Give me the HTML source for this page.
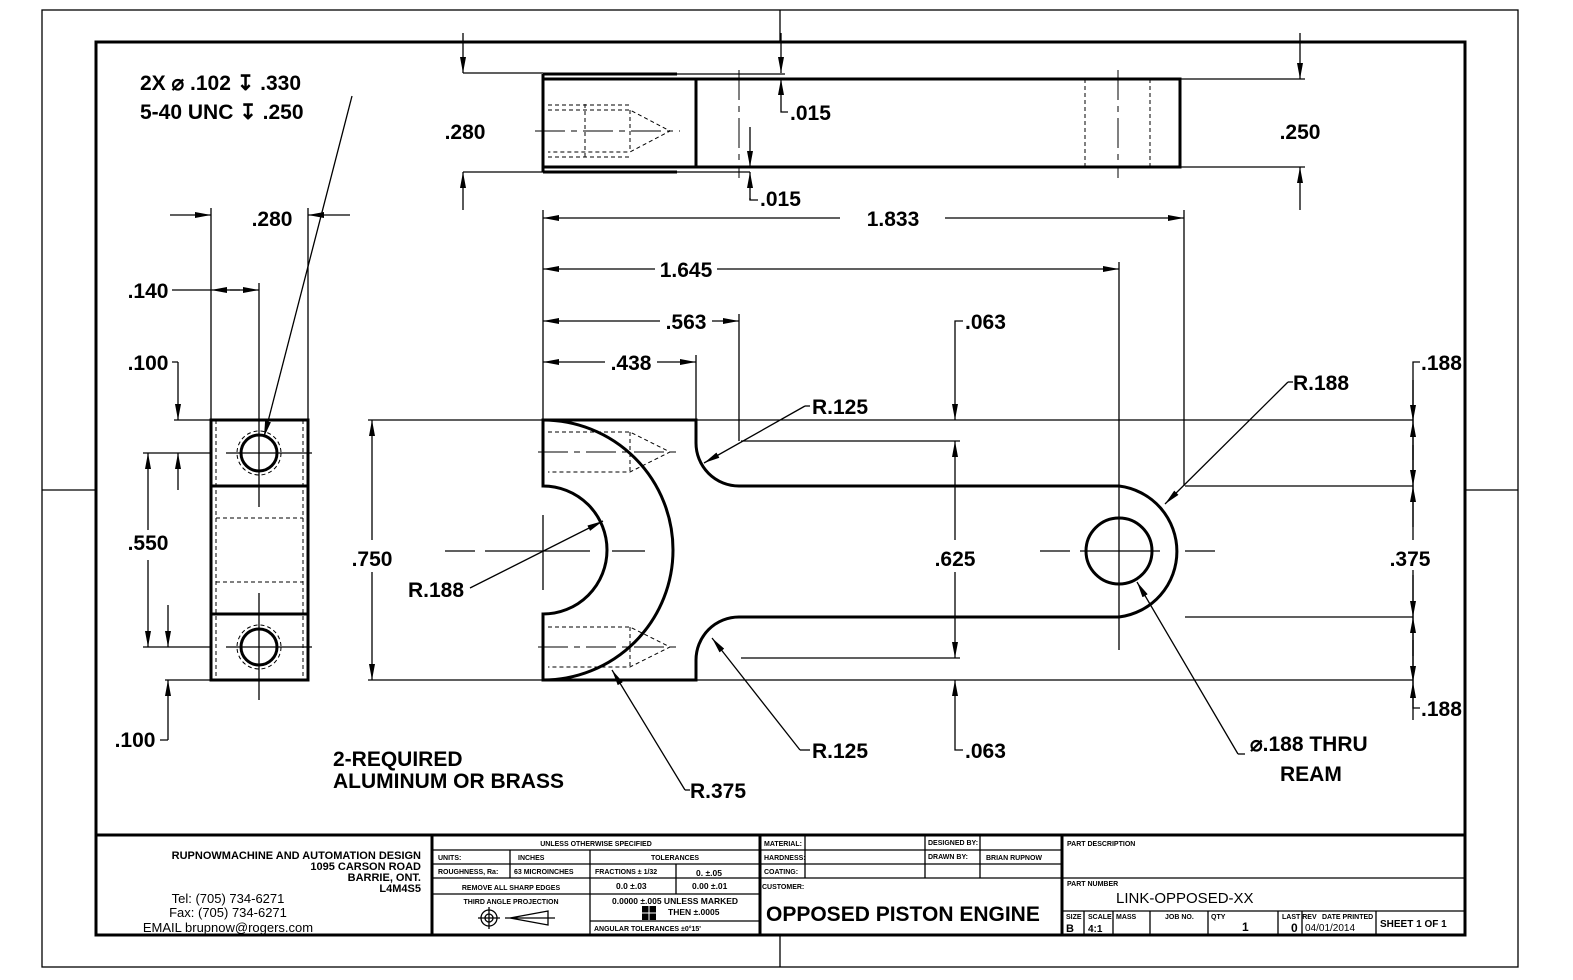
<!DOCTYPE html>
<html><head><meta charset="utf-8"><style>
html,body{margin:0;padding:0;background:#fff}
svg{display:block}
text{font-family:"Liberation Sans",sans-serif;fill:#000}
.d{font-size:21px;font-weight:bold}
.t{fill:none;stroke:#000;stroke-width:1.3}
.k{fill:none;stroke:#000;stroke-width:3}
.h{fill:none;stroke:#000;stroke-width:1;stroke-dasharray:4 3}
.c{fill:none;stroke:#000;stroke-width:1;stroke-dasharray:30 6 6 6}
.s{font-size:7px;font-weight:bold}
.m{font-size:8.5px}
</style></head><body>
<svg width="1573" height="980" viewBox="0 0 1573 980" xmlns="http://www.w3.org/2000/svg">
<defs>
<marker id="a" viewBox="0 0 16 6" refX="16" refY="3" markerWidth="16" markerHeight="6" markerUnits="userSpaceOnUse" orient="auto"><path d="M0,0 L16,3 L0,6 Z" fill="#000"/></marker>
</defs>
<!-- borders -->
<rect x="42" y="10" width="1476" height="957" class="t" stroke-width="1"/>
<rect x="96" y="42" width="1369" height="893" class="k"/>
<path class="t" d="M780,10V42 M780,935V967 M42,490H96 M1465,490H1518"/>

<!-- TOP VIEW -->
<rect x="543" y="79" width="637" height="88" class="k"/>
<path class="k" d="M543,74H677 M543,172H677 M543,74V172 M696,79V167"/>
<path class="t" d="M677,74H785 M677,172H750"/>
<path class="c" d="M739,70V178 M1118,70V178"/>
<path class="h" d="M1085,79V167 M1150,79V167 M548,110H630L670,131L630,152H548 M630,110V152 M585,104V158 M548,105H630 M548,157H630"/>
<path class="c" d="M535,131H680"/>
<!-- .280 -->
<line x1="463" y1="33" x2="463" y2="73" class="t" marker-end="url(#a)"/>
<line x1="463" y1="210" x2="463" y2="172" class="t" marker-end="url(#a)"/>
<text x="465" y="139" class="d" text-anchor="middle">.280</text>
<path class="t" d="M463,73H543 M463,172H543"/>
<!-- .015 upper -->
<line x1="781" y1="33" x2="781" y2="73" class="t" marker-end="url(#a)"/>
<line x1="781" y1="107" x2="781" y2="79" class="t" marker-end="url(#a)"/>
<path class="t" d="M781,107V112H788"/>
<text x="790" y="120" class="d">.015</text>
<!-- .015 lower -->
<line x1="750" y1="127" x2="750" y2="167" class="t" marker-end="url(#a)"/>
<line x1="750" y1="200" x2="750" y2="172" class="t" marker-end="url(#a)"/>
<path class="t" d="M750,198V200H758"/>
<text x="760" y="206" class="d">.015</text>
<!-- .250 -->
<path class="t" d="M1180,79H1305 M1180,167H1305"/>
<line x1="1300" y1="33" x2="1300" y2="79" class="t" marker-end="url(#a)"/>
<line x1="1300" y1="210" x2="1300" y2="167" class="t" marker-end="url(#a)"/>
<text x="1300" y="139" class="d" text-anchor="middle">.250</text>

<!-- SIDE VIEW -->
<rect x="211" y="420" width="97" height="260" class="k"/>
<path class="k" d="M211,486H308 M211,614H308"/>
<path class="h" d="M216,420V680 M303,420V680 M216,518H303 M216,582H303"/>
<circle cx="259" cy="453" r="18" class="k"/>
<circle cx="259" cy="453" r="22" class="h" stroke-dasharray="2 2"/>
<circle cx="259" cy="647" r="18" class="k"/>
<circle cx="259" cy="647" r="22" class="h" stroke-dasharray="2 2"/>
<path class="t" d="M259,283V507 M226,453H312 M259,593V700 M226,647H312"/>
<!-- .280 side -->
<path class="t" d="M211,208V420 M308,208V420"/>
<line x1="170" y1="215" x2="211" y2="215" class="t" marker-end="url(#a)"/>
<line x1="350" y1="215" x2="308" y2="215" class="t" marker-end="url(#a)"/>
<text x="272" y="226" class="d" text-anchor="middle">.280</text>
<!-- .140 -->
<line x1="172" y1="290" x2="211" y2="290" class="t"/>
<line x1="240" y1="290" x2="211" y2="290" class="t" marker-end="url(#a)"/>
<line x1="230" y1="290" x2="259" y2="290" class="t" marker-end="url(#a)"/>
<text x="148" y="298" class="d" text-anchor="middle">.140</text>
<!-- .100 top -->
<path class="t" d="M172,362H178 M174,420H211"/>
<line x1="178" y1="362" x2="178" y2="420" class="t" marker-end="url(#a)"/>
<text x="148" y="370" class="d" text-anchor="middle">.100</text>
<line x1="178" y1="490" x2="178" y2="453" class="t" marker-end="url(#a)"/>
<line x1="168" y1="605" x2="168" y2="647" class="t" marker-end="url(#a)"/>
<!-- .550 -->
<path class="t" d="M143,453H211 M143,647H211"/>
<line x1="148" y1="530" x2="148" y2="453" class="t" marker-end="url(#a)"/>
<line x1="148" y1="560" x2="148" y2="647" class="t" marker-end="url(#a)"/>
<text x="148" y="550" class="d" text-anchor="middle">.550</text>
<!-- .100 bottom -->
<path class="t" d="M165,680H211 M160,740H168"/>
<line x1="168" y1="740" x2="168" y2="680" class="t" marker-end="url(#a)"/>
<text x="135" y="747" class="d" text-anchor="middle">.100</text>
<!-- callout -->
<text x="140" y="90" class="d">2X ⌀ .102 ↧ .330</text>
<text x="140" y="119" class="d">5-40 UNC  ↧ .250</text>
<line x1="352" y1="96" x2="264" y2="437" class="t" marker-end="url(#a)"/>

<!-- MAIN VIEW -->
<path class="k" d="M543,420H696V443 A43,43 0 0 0 739,486H1119 A66,66 0 0 1 1119,617H739 A43,43 0 0 0 696,660V680H543V614 A64,64 0 0 0 543,486V420Z"/>
<path class="k" d="M543,420 A130,130 0 0 1 543,680"/>
<circle cx="1119" cy="551" r="33" class="k"/>
<path class="h" d="M548,432H630L670,452L630,472H548 M630,432V472 M548,627H630L670,647L630,667H548 M630,627V667"/>
<path class="c" d="M538,452H680 M538,647H680"/>
<path class="t" d="M445,551H475 M485,551H590 M612,551H645 M543,515V590 M1040,551H1070 M1080,551H1160 M1185,551H1215 M1119,262V650"/>
<!-- extension lines -->
<path class="t" d="M368,420H543 M368,680H543 M696,420H1413 M696,680H1413 M1185,486H1413 M1185,617H1413 M741,441H960 M741,658H960"/>
<path class="t" d="M543,210V420 M1184,210V486 M739,314V441 M696,355V420"/>
<!-- 1.833 -->
<line x1="840" y1="218" x2="543" y2="218" class="t" marker-end="url(#a)"/>
<line x1="945" y1="218" x2="1184" y2="218" class="t" marker-end="url(#a)"/>
<text x="893" y="226" class="d" text-anchor="middle">1.833</text>
<!-- 1.645 -->
<line x1="655" y1="269" x2="543" y2="269" class="t" marker-end="url(#a)"/>
<line x1="717" y1="269" x2="1119" y2="269" class="t" marker-end="url(#a)"/>
<text x="686" y="277" class="d" text-anchor="middle">1.645</text>
<!-- .563 -->
<line x1="660" y1="321" x2="543" y2="321" class="t" marker-end="url(#a)"/>
<line x1="712" y1="321" x2="739" y2="321" class="t" marker-end="url(#a)"/>
<text x="686" y="329" class="d" text-anchor="middle">.563</text>
<!-- .438 -->
<line x1="605" y1="362" x2="543" y2="362" class="t" marker-end="url(#a)"/>
<line x1="657" y1="362" x2="696" y2="362" class="t" marker-end="url(#a)"/>
<text x="631" y="370" class="d" text-anchor="middle">.438</text>
<!-- .750 -->
<line x1="372" y1="540" x2="372" y2="420" class="t" marker-end="url(#a)"/>
<line x1="372" y1="572" x2="372" y2="680" class="t" marker-end="url(#a)"/>
<text x="372" y="566" class="d" text-anchor="middle">.750</text>
<!-- .063 top & .625 & .063 bottom -->
<path class="t" d="M963,321H955V330"/>
<line x1="955" y1="330" x2="955" y2="420" class="t" marker-end="url(#a)"/>
<text x="965" y="329" class="d">.063</text>
<line x1="955" y1="540" x2="955" y2="441" class="t" marker-end="url(#a)"/>
<line x1="955" y1="572" x2="955" y2="658" class="t" marker-end="url(#a)"/>
<text x="955" y="566" class="d" text-anchor="middle">.625</text>
<path class="t" d="M963,750H955V740"/>
<line x1="955" y1="740" x2="955" y2="680" class="t" marker-end="url(#a)"/>
<text x="965" y="758" class="d">.063</text>
<!-- right stack -->
<path class="t" d="M1420,362H1413V708H1420"/>
<line x1="1413" y1="380" x2="1413" y2="421" class="t" marker-end="url(#a)"/>
<line x1="1413" y1="460" x2="1413" y2="421" class="t" marker-end="url(#a)"/>
<line x1="1413" y1="445" x2="1413" y2="486" class="t" marker-end="url(#a)"/>
<line x1="1413" y1="527" x2="1413" y2="486" class="t" marker-end="url(#a)"/>
<line x1="1413" y1="575" x2="1413" y2="617" class="t" marker-end="url(#a)"/>
<line x1="1413" y1="656" x2="1413" y2="617" class="t" marker-end="url(#a)"/>
<line x1="1413" y1="640" x2="1413" y2="682" class="t" marker-end="url(#a)"/>
<line x1="1413" y1="720" x2="1413" y2="682" class="t" marker-end="url(#a)"/>
<rect x="1385" y="540" width="50" height="30" fill="#fff"/>
<text x="1410" y="566" class="d" text-anchor="middle">.375</text>
<text x="1421" y="370" class="d">.188</text>
<text x="1421" y="716" class="d">.188</text>
<!-- radii leaders -->
<path class="t" d="M810,406H805"/>
<line x1="805" y1="406" x2="704" y2="463" class="t" marker-end="url(#a)"/>
<text x="812" y="414" class="d">R.125</text>
<path class="t" d="M810,750H800"/>
<line x1="800" y1="750" x2="712" y2="638" class="t" marker-end="url(#a)"/>
<text x="812" y="758" class="d">R.125</text>
<line x1="470" y1="588" x2="603" y2="521" class="t" marker-end="url(#a)"/>
<text x="408" y="597" class="d">R.188</text>
<path class="t" d="M690,790H685"/>
<line x1="685" y1="790" x2="612" y2="670" class="t" marker-end="url(#a)"/>
<text x="690" y="798" class="d">R.375</text>
<path class="t" d="M1293,382H1288"/>
<line x1="1288" y1="382" x2="1165" y2="504" class="t" marker-end="url(#a)"/>
<text x="1293" y="390" class="d">R.188</text>
<path class="t" d="M1245,754H1238"/>
<line x1="1238" y1="754" x2="1137" y2="582" class="t" marker-end="url(#a)"/>
<text x="1250" y="751" class="d">⌀.188 THRU</text>
<text x="1280" y="781" class="d">REAM</text>
<text x="333" y="766" class="d" font-size="19">2-REQUIRED</text>
<text x="333" y="788" class="d" font-size="19">ALUMINUM OR BRASS</text>

<!-- TITLE BLOCK -->
<path class="k" d="M96,835H1465 M432,835V935 M760,835V935 M1062,835V935" stroke-width="2.5"/>
<path class="t" d="M432,850H760 M432,864H760 M432,878H760 M432,894H760 M590,921H760 M590,850V935 M510,850V878 M676,864V894"/>
<path class="t" d="M760,850H1062 M760,864H1062 M760,878H1062 M805,835V878 M925,835V878 M980,835V878"/>
<path class="t" d="M1062,878H1465 M1062,911H1465 M1084,911V935 M1113,911V935 M1150,911V935 M1208,911V935 M1278,911V935 M1302,911V935 M1376,911V935"/>
<g class="s">
<text x="596" y="846" text-anchor="middle" class="s">UNLESS OTHERWISE SPECIFIED</text>
<text x="438" y="860" class="s">UNITS:</text>
<text x="518" y="860" class="s">INCHES</text>
<text x="438" y="874" class="s">ROUGHNESS, Ra:</text>
<text x="514" y="874" class="s">63 MICROINCHES</text>
<text x="675" y="860" text-anchor="middle" class="s">TOLERANCES</text>
<text x="595" y="874" class="s">FRACTIONS ± 1/32</text>
<text x="696" y="876" class="m">0.  ±.05</text>
<text x="511" y="890" text-anchor="middle" class="s">REMOVE ALL SHARP EDGES</text>
<text x="616" y="889" class="m">0.0  ±.03</text>
<text x="692" y="889" class="m">0.00  ±.01</text>
<text x="511" y="904" text-anchor="middle" class="s">THIRD ANGLE PROJECTION</text>
<text x="612" y="904" class="m">0.0000  ±.005 UNLESS MARKED</text>
<text x="668" y="915" class="m">THEN ±.0005</text>
<text x="594" y="931" class="s">ANGULAR TOLERANCES   ±0°15'</text>
<text x="764" y="846" class="s">MATERIAL:</text>
<text x="764" y="860" class="s">HARDNESS:</text>
<text x="764" y="874" class="s">COATING:</text>
<text x="928" y="845" class="s">DESIGNED BY:</text>
<text x="928" y="859" class="s">DRAWN BY:</text>
<text x="986" y="860" class="s" font-size="8">BRIAN RUPNOW</text>
<text x="762" y="889" class="s">CUSTOMER:</text>
<text x="1067" y="846" class="s">PART DESCRIPTION</text>
<text x="1067" y="886" class="s">PART NUMBER</text>
<text x="1066" y="919" class="s" font-size="5">SIZE</text>
<text x="1088" y="919" class="s" font-size="5">SCALE</text>
<text x="1116" y="919" class="s" font-size="5">MASS</text>
<text x="1165" y="919" class="s" font-size="5">JOB NO.</text>
<text x="1211" y="919" class="s" font-size="5">QTY</text>
<text x="1282" y="919" class="s" font-size="5">LAST REV</text>
<text x="1322" y="919" class="s" font-size="5">DATE PRINTED</text>
</g>
<circle cx="489" cy="918" r="8" class="t"/><circle cx="489" cy="918" r="4" class="t"/>
<path class="t" d="M478,918H500 M489,907V929 M510,918L548,911V925Z M505,918H555"/>
<rect x="642" y="906" width="14" height="14" fill="#000"/>
<path d="M649,906V920 M642,913H656" stroke="#fff" stroke-width="1"/>
<text x="766" y="921" font-size="21" font-weight="bold">OPPOSED PISTON ENGINE</text>
<text x="1116" y="903" font-size="15">LINK-OPPOSED-XX</text>
<text x="1066" y="932" font-size="11" font-weight="bold">B</text>
<text x="1088" y="932" font-size="10" font-weight="bold">4:1</text>
<text x="1242" y="931" font-size="12" font-weight="bold">1</text>
<text x="1291" y="932" font-size="12" font-weight="bold">0</text>
<text x="1305" y="931" font-size="10">04/01/2014</text>
<text x="1380" y="927" font-size="10" font-weight="bold">SHEET 1 OF 1</text>
<g font-size="11" font-weight="bold" text-anchor="end">
<text x="421" y="859">RUPNOWMACHINE AND AUTOMATION DESIGN</text>
<text x="421" y="870">1095 CARSON ROAD</text>
<text x="421" y="881">BARRIE, ONT.</text>
<text x="421" y="892">L4M4S5</text>
</g>
<g font-size="13" text-anchor="middle">
<text x="228" y="903">Tel: (705) 734-6271</text>
<text x="228" y="917">Fax: (705) 734-6271</text>
<text x="228" y="932">EMAIL brupnow@rogers.com</text>
</g>
</svg>
</body></html>
